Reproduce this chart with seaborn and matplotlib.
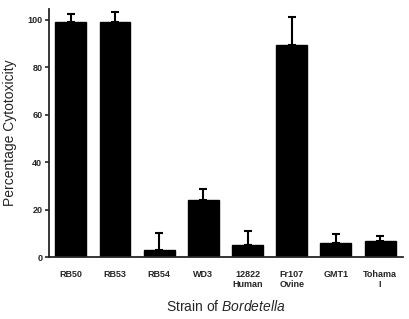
import numpy as np
import pandas as pd
import matplotlib
matplotlib.use("Agg")
import matplotlib.pyplot as plt
import seaborn as sns

# data
strains = ["RB50", "RB53", "RB54", "WD3", "12822\nHuman", "Fr107\nOvine", "GMT1", "Tohama\nI"]
cytotoxicity = [99.3, 99.3, 2.9, 23.9, 5.2, 89.5, 5.8, 6.6]
error_up = [3.0, 3.8, 7.2, 5.0, 5.6, 11.6, 3.8, 2.2]

df = pd.DataFrame({"strain": strains, "value": cytotoxicity, "err": error_up})

sns.set_style("ticks")
plt.rcParams["font.family"] = ["Liberation Sans", "DejaVu Sans"]
plt.rcParams["mathtext.fontset"] = "custom"
plt.rcParams["mathtext.it"] = "Liberation Sans:italic"
plt.rcParams["mathtext.rm"] = "Liberation Sans"

fig = plt.figure(figsize=(4.1, 3.19), dpi=100)
ax = fig.add_axes([0.12, 0.194, 0.863, 0.778])

sns.barplot(data=df, x="strain", y="value", color="black", width=0.7,
            saturation=1, ax=ax, edgecolor="black")

# one-sided error bars
ax.errorbar(np.arange(len(strains)), df["value"],
            yerr=[np.zeros(len(strains)), df["err"]],
            fmt="none", ecolor="black", elinewidth=1.5, capsize=3, capthick=1.5)

ax.set_xlim(-0.49, 7.52)
ax.set_ylim(0, 104.6)
ax.set_yticks([0, 20, 40, 60, 80, 100])

sns.despine(ax=ax)
ax.spines["left"].set_linewidth(1.3)
ax.spines["bottom"].set_linewidth(1.3)
ax.tick_params(axis="y", length=3, width=1.2, labelsize=6.5, pad=2)
ax.tick_params(axis="x", length=0, labelsize=6.5, pad=9)
for lbl in ax.get_xticklabels() + ax.get_yticklabels():
    lbl.set_fontweight("bold")

ax.set_ylabel("Percentage Cytotoxicity", fontsize=10, labelpad=7)
ax.set_xlabel(r"Strain of $\it{Bordetella}$", fontsize=10, labelpad=7)

fig.savefig("out.png", dpi=100)
